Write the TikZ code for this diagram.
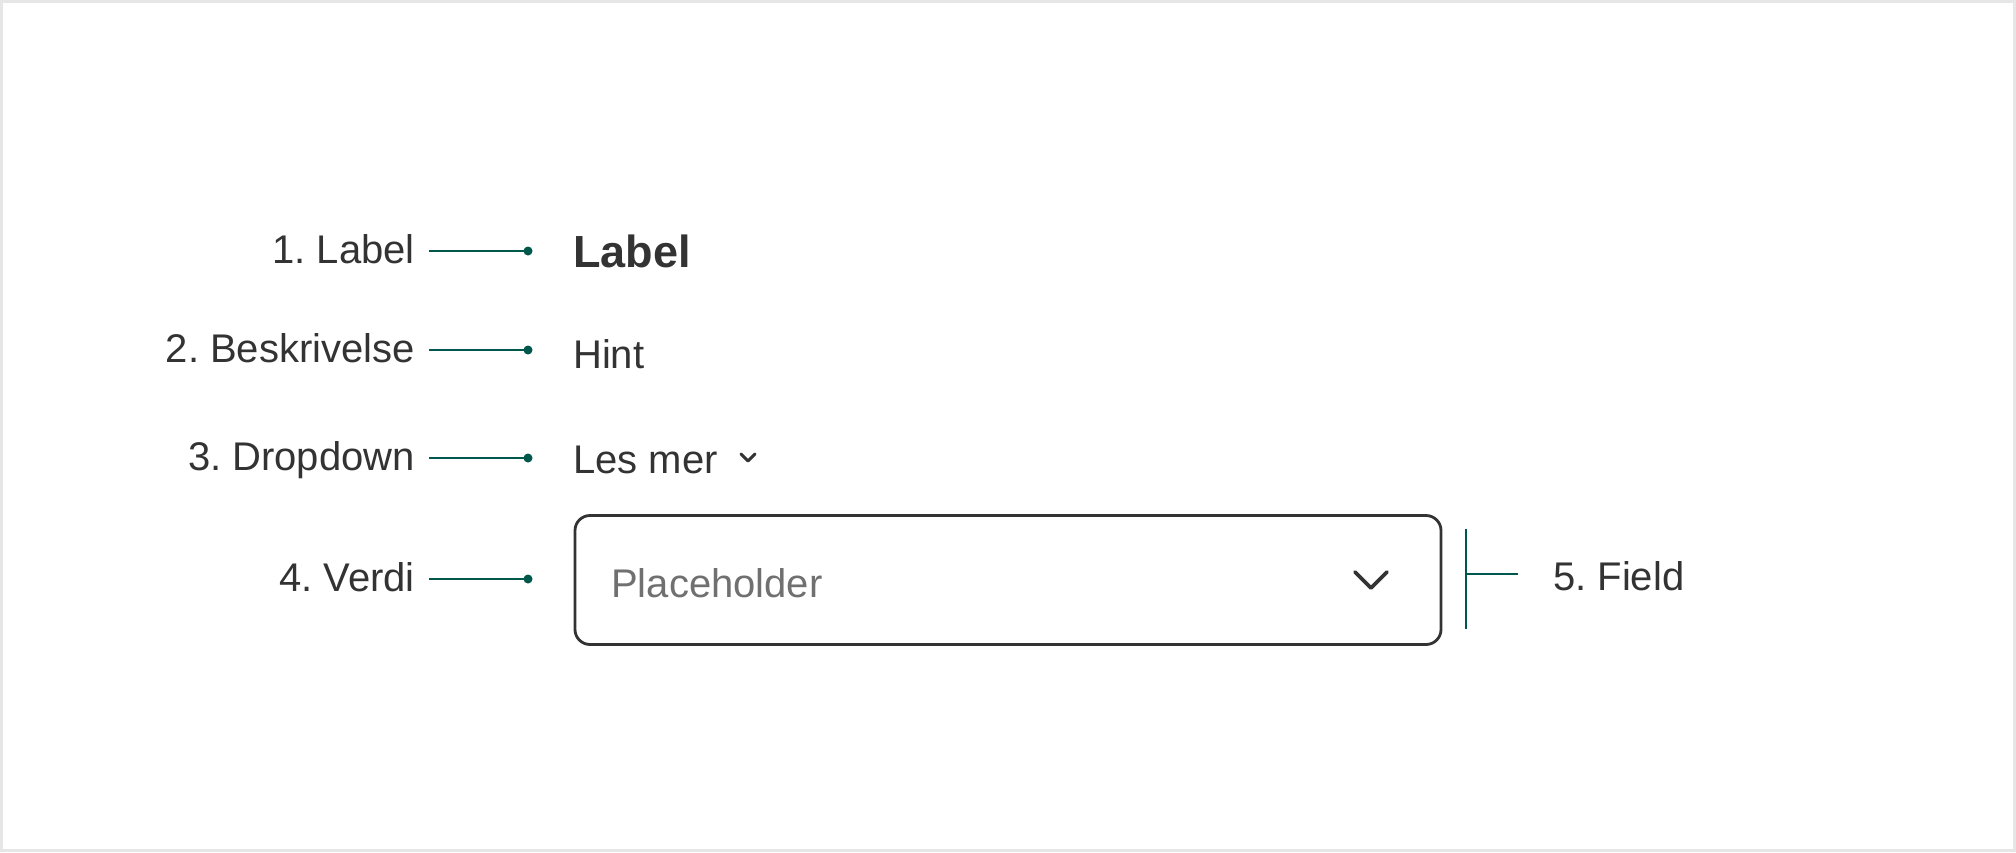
\documentclass[tikz,border=0pt]{standalone}
\usepackage{fontspec}
\setmainfont{Liberation Sans}
\frenchspacing
\usetikzlibrary{positioning}

\definecolor{ink}{HTML}{333333}
\definecolor{hintgrey}{HTML}{707070}
\definecolor{calloutgreen}{HTML}{00584C}
\definecolor{framegrey}{HTML}{E6E6E6}

\tikzstyle{annot} = [font=\fontsize{40}{48}\selectfont,text=ink,inner sep=0pt]
\tikzstyle{sample} = [font=\fontsize{40}{48}\selectfont,text=ink,inner sep=0pt]
\tikzstyle{callout} = [draw=calloutgreen,line width=2.6pt]
\tikzstyle{fieldbox} = [draw=ink,line width=2.8pt,rounded corners=15pt,rectangle,inner sep=0pt]

\begin{document}
\begin{tikzpicture}[x=1pt,y=-1pt]
	% frame
	\fill[framegrey] (0,0) rectangle (2016,852);
	\fill[white] (3,3) rectangle (2013,849);
	% annotations
	\node (ann1) [annot,anchor=base east] at (415,263) {1. Label};
	\node (ann2) [annot,anchor=base east] at (415,362) {2. Beskrivelse};
	\node (ann3) [annot,anchor=base east] at (415,470) {3. Dropdown};
	\node (ann4) [annot,anchor=base east] at (415,591) {4. Verdi};
	% component parts
	\node (label) [sample,anchor=base west,font=\fontsize{45}{54}\selectfont\bfseries] at (573,267) {Label};
	\node (hint) [sample,anchor=base west] at (573,368) {Hint};
	\node (lesmer) [sample,anchor=base west] at (573,473) {Les mer};
	\node (field) [fieldbox,minimum width=866pt,minimum height=129pt] at (1008,580) {};
	\node (placeholder) [sample,anchor=base west,text=hintgrey] at (611,597) {Placeholder};
	\draw[ink,line width=3pt,line cap=round,line join=round] (741,454) -- (748,461) -- (755,454);
	\draw[ink,line width=3.6pt,line cap=round,line join=round] (1355,572) -- (1371,588) -- (1387,572);
	\node (ann5) [annot,anchor=base west] at (1553,590) {5. Field};
	% callouts
	\coordinate (tail1) at (429,251);
	\coordinate (dot1) at (528,251);
	\coordinate (tail2) at (429,350);
	\coordinate (dot2) at (528,350);
	\coordinate (tail3) at (429,458);
	\coordinate (dot3) at (528,458);
	\coordinate (tail4) at (429,579);
	\coordinate (dot4) at (528,579);
	\draw [callout] (tail1) -- (dot1);
	\draw [callout] (tail2) -- (dot2);
	\draw [callout] (tail3) -- (dot3);
	\draw [callout] (tail4) -- (dot4);
	\fill [calloutgreen] (dot1) circle (4.5);
	\fill [calloutgreen] (dot2) circle (4.5);
	\fill [calloutgreen] (dot3) circle (4.5);
	\fill [calloutgreen] (dot4) circle (4.5);
	% field bracket
	\coordinate (brtop) at (1466,529);
	\coordinate (brbot) at (1466,629);
	\coordinate (brmid) at (1466,574);
	\coordinate (brend) at (1518,574);
	\draw [callout] (brtop) -- (brbot);
	\draw [callout] (brmid) -- (brend);
\end{tikzpicture}
\end{document}
